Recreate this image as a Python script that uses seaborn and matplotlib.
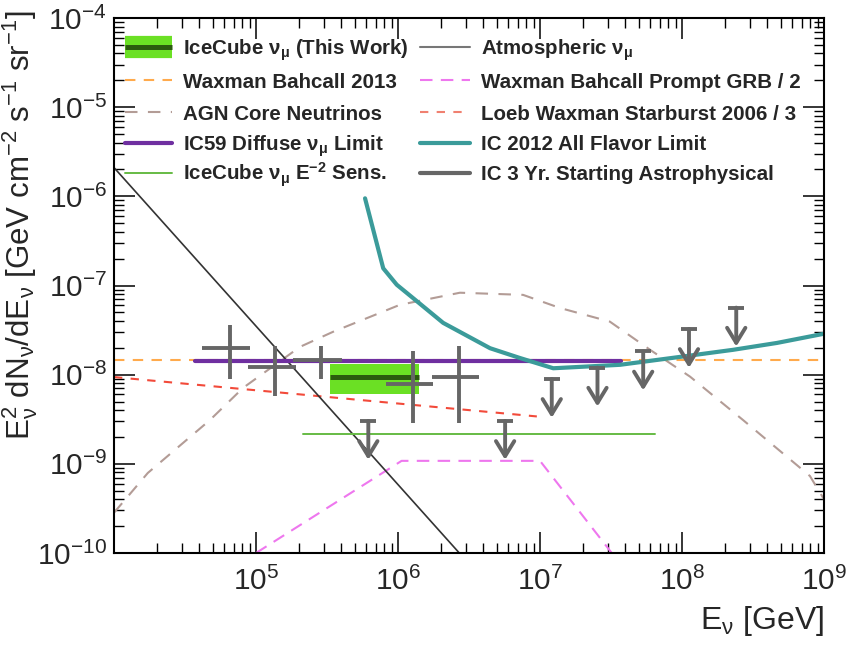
import math
import matplotlib
matplotlib.use("Agg")
import matplotlib.pyplot as plt
from matplotlib.ticker import LogLocator, FixedLocator, FuncFormatter, NullFormatter
import pandas as pd
import seaborn as sns

# ---------------- data ----------------
# IceCube nu_mu best fit (this work): energy range, flux and 1-sigma band
this_work_e = [3.32e5, 1.41e6]
this_work_flux = 9.4e-9
this_work_lo = 6.04e-9
this_work_hi = 1.31e-8

# Atmospheric nu_mu
atm_e = [1.0e4, 3.0e6]
atm_flux = [2.1e-6, 8.3e-11]

# Waxman Bahcall 2013
wb_e = [1.0e4, 1.0e9]
wb_flux = [1.47e-8, 1.47e-8]

# Waxman Bahcall prompt GRB / 2
grb_e = [1.0e5, 1.06e6, 1.0e7, 3.2e7]
grb_flux = [1.0e-10, 1.08e-9, 1.08e-9, 1.0e-10]

# AGN core neutrinos
agn_e = [1.0e4, 1.73e4, 4.74e4, 8.1e4, 2.04e5, 3.48e5, 1.03e6, 2.73e6,
         7.6e6, 1.38e7, 3.1e7, 5.96e7, 1.14e8, 2.69e8, 7.96e8, 1.0e9]
agn_flux = [2.83e-10, 7.9e-10, 3.1e-9, 7.1e-9, 2.05e-8, 3.02e-8, 6.07e-8, 8.3e-8,
            7.85e-8, 5.6e-8, 3.94e-8, 1.9e-8, 9.5e-9, 3.1e-9, 7.3e-10, 4.0e-10]

# Loeb Waxman starburst 2006 / 3
sb_e = [1.0e4, 9.5e6]
sb_flux = [9.4e-9, 3.4e-9]

# IC59 diffuse nu_mu limit
ic59_e = [3.7e4, 3.7e7]
ic59_flux = [1.44e-8, 1.44e-8]

# IC 2012 all flavor limit
ic2012_e = [5.86e5, 7.87e5, 9.8e5, 1.28e6, 2.08e6, 4.45e6, 7.2e6, 1.24e7,
            3.66e7, 1.02e8, 2.29e8, 4.67e8, 9.8e8]
ic2012_flux = [9.5e-7, 1.56e-7, 1.02e-7, 7.2e-8, 3.81e-8, 1.98e-8, 1.54e-8, 1.18e-8,
               1.29e-8, 1.6e-8, 1.9e-8, 2.27e-8, 2.86e-8]

# IceCube nu_mu E^-2 sensitivity
sens_e = [2.13e5, 6.5e7]
sens_flux = [2.15e-9, 2.15e-9]

# IC 3 yr starting events: measured bins
hese_e = [6.56e4, 1.36e5, 2.87e5, 1.28e6, 2.69e6]
hese_e_lo = [4.15e4, 8.75e4, 1.83e5, 8.2e5, 1.73e6]
hese_e_hi = [9.08e4, 1.9e5, 4.02e5, 1.77e6, 3.74e6]
hese_flux = [2.01e-8, 1.21e-8, 1.47e-8, 7.89e-9, 9.5e-9]
hese_flux_lo = [8.97e-9, 5.83e-9, 8.9e-9, 2.9e-9, 2.9e-9]
hese_flux_hi = [3.61e-8, 2.12e-8, 2.12e-8, 1.82e-8, 2.12e-8]
# IC 3 yr starting events: upper limits
hese_ul_e = [6.18e5, 5.68e6, 1.21e7, 2.54e7, 5.33e7, 1.12e8, 2.41e8]
hese_ul_flux = [3.03e-9, 3.03e-9, 8.97e-9, 1.2e-8, 1.82e-8, 3.26e-8, 5.65e-8]

x_ticks = [1e5, 1e6, 1e7, 1e8, 1e9]
y_ticks = [1e-10, 1e-9, 1e-8, 1e-7, 1e-6, 1e-5, 1e-4]

legend_left = [
    r"IceCube $\nu_{\mu}$ (This Work)",
    "Waxman Bahcall 2013",
    "AGN Core Neutrinos",
    r"IC59 Diffuse $\nu_{\mu}$ Limit",
    r"IceCube $\nu_{\mu}$ E$^{-2}$ Sens.",
]
legend_right = [
    r"Atmospheric $\nu_{\mu}$",
    "Waxman Bahcall Prompt GRB / 2",
    "Loeb Waxman Starburst 2006 / 3",
    "IC 2012 All Flavor Limit",
    "IC 3 Yr. Starting Astrophysical",
]

# ---------------- style ----------------
sns.set_theme(style="ticks")
plt.rcParams["font.family"] = ["Liberation Sans", "DejaVu Sans"]
plt.rcParams["mathtext.default"] = "regular"

C_GREEN = "#6be024"
C_DKGREEN = "#2b5a0e"
C_ORANGE = "#ffaa4c"
C_AGN = "#b39c96"
C_PURPLE = "#6f2fa0"
C_SENS = "#66bb44"
C_ATM = "#333333"
C_GRB = "#ee77ee"
C_SB = "#f24a3a"
C_TEAL = "#3b9b9a"
C_GRAY = "#666666"

styles = {
    "wb": dict(color=C_ORANGE, lw=1.5, linestyle=(0, (5, 4))),
    "agn": dict(color=C_AGN, lw=1.5, linestyle=(0, (6, 5))),
    "ic59": dict(color=C_PURPLE, lw=3.0),
    "sens": dict(color=C_SENS, lw=1.4),
    "atm": dict(color=C_ATM, lw=1.2),
    "grb": dict(color=C_GRB, lw=1.5, linestyle=(0, (6, 4))),
    "sb": dict(color=C_SB, lw=1.5, linestyle=(0, (4, 4))),
    "ic2012": dict(color=C_TEAL, lw=3.0),
}

W, H = 847, 649
fig = plt.figure(figsize=(W / 100, H / 100), dpi=100)
AX_L, AX_R, AX_T, AX_B = 114, 824, 18, 553
ax = fig.add_axes([AX_L / W, 1 - AX_B / H, (AX_R - AX_L) / W, (AX_B - AX_T) / H])


def curve(e, f, key):
    df = pd.DataFrame({"E": e, "F": f})
    sns.lineplot(data=df, x="E", y="F", ax=ax, sort=False, estimator=None, **styles[key])


curve(agn_e, agn_flux, "agn")
curve(wb_e, wb_flux, "wb")
curve(grb_e, grb_flux, "grb")
curve(sb_e, sb_flux, "sb")
curve(atm_e, atm_flux, "atm")
curve(sens_e, sens_flux, "sens")
curve(ic59_e, ic59_flux, "ic59")
curve(ic2012_e, ic2012_flux, "ic2012")

# best-fit band and normalisation
ax.fill_between(this_work_e, [this_work_lo] * 2, [this_work_hi] * 2,
                color=C_GREEN, lw=0, zorder=3)
ax.plot(this_work_e, [this_work_flux] * 2, color=C_DKGREEN, lw=3.6,
        solid_capstyle="butt", zorder=4)

# starting-event points
xerr = [[c - l for c, l in zip(hese_e, hese_e_lo)], [h - c for c, h in zip(hese_e, hese_e_hi)]]
yerr = [[c - l for c, l in zip(hese_flux, hese_flux_lo)], [h - c for c, h in zip(hese_flux, hese_flux_hi)]]
ax.errorbar(hese_e, hese_flux, xerr=xerr, yerr=yerr, fmt="none", ecolor=C_GRAY,
            elinewidth=2.8, capsize=0, zorder=5)
ax.plot(hese_ul_e, hese_ul_flux, linestyle="none", marker="_", markersize=12,
        mew=2.8, color=C_GRAY, zorder=5)
for e, f in zip(hese_ul_e, hese_ul_flux):
    ax.annotate("", xy=(e, f * 0.366), xytext=(e, f),
                arrowprops=dict(arrowstyle="->,head_length=0.9,head_width=0.55",
                                color=C_GRAY, lw=2.8, shrinkA=0, shrinkB=0),
                zorder=5)

# ---------------- axes ----------------
ax.set_xscale("log")
ax.set_yscale("log")
ax.set_xlim(1e4, 1e9)
ax.set_ylim(1e-10, 1e-4)


def pow_label(v, pos):
    return r"$10^{%d}$" % round(math.log10(v))


ax.xaxis.set_major_locator(FixedLocator(x_ticks))
ax.yaxis.set_major_locator(FixedLocator(y_ticks))
ax.xaxis.set_major_formatter(FuncFormatter(pow_label))
ax.yaxis.set_major_formatter(FuncFormatter(pow_label))
ax.xaxis.set_minor_locator(LogLocator(base=10, subs=range(2, 10), numticks=20))
ax.yaxis.set_minor_locator(LogLocator(base=10, subs=range(2, 10), numticks=20))
ax.xaxis.set_minor_formatter(NullFormatter())
ax.yaxis.set_minor_formatter(NullFormatter())
ax.tick_params(which="both", direction="in", top=True, right=True, color="black")
ax.tick_params(which="major", length=15, width=1.1, labelsize=21.5)
ax.tick_params(which="minor", length=7.5, width=1.0)
ax.tick_params(axis="y", which="major", pad=5)
ax.tick_params(axis="x", which="major", pad=10)
for s in ax.spines.values():
    s.set_linewidth(1.5)
    s.set_color("black")

ax.set_xlabel(r"$E_{\nu}$ [GeV]", fontsize=23, loc="right", labelpad=6)
ax.set_ylabel(r"$E_{\nu}^{2}$ dN$_{\nu}$/dE$_{\nu}$ [GeV cm$^{-2}$ s$^{-1}$ sr$^{-1}$]",
              fontsize=22.5, loc="top")
ax.yaxis.set_label_coords((40 - AX_L) / (AX_R - AX_L), (AX_B - 10) / (AX_B - AX_T))

# ---------------- legend ----------------
def ax_x(px):
    return (px - AX_L) / (AX_R - AX_L)


def ax_y(py):
    return (AX_B - py) / (AX_B - AX_T)


rows_px = [47, 80, 112, 143, 173]
left_keys = ["this", "wb", "agn", "ic59", "sens"]
right_keys = ["atm", "grb", "sb", "ic2012", "hese"]
legend_styles = dict(styles)
legend_styles["atm"] = dict(color="#777777", lw=1.5)
legend_styles["sb"] = dict(color="#f08070", lw=1.5, linestyle=(0, (4, 4)))
legend_styles["hese"] = dict(color=C_GRAY, lw=3.0)

for col_x0, col_x1, keys, texts in [(125, 172, left_keys, legend_left),
                                     (420, 470, right_keys, legend_right)]:
    for py, key, txt in zip(rows_px, keys, texts):
        xs = [ax_x(col_x0), ax_x(col_x1)]
        ys = [ax_y(py)] * 2
        if key == "this":
            ax.plot(xs, ys, transform=ax.transAxes, color=C_GREEN, lw=16,
                    solid_capstyle="butt", zorder=6)
            ax.plot(xs, ys, transform=ax.transAxes, color=C_DKGREEN, lw=3.6,
                    solid_capstyle="butt", zorder=7)
        else:
            ax.plot(xs, ys, transform=ax.transAxes, zorder=6, **legend_styles[key])
        ax.text(ax_x(col_x1 + 11), ax_y(py + 7.5), txt, transform=ax.transAxes,
                fontsize=14.8, fontweight="bold", ha="left", va="baseline", zorder=7)

fig.savefig("out.png", dpi=100)
